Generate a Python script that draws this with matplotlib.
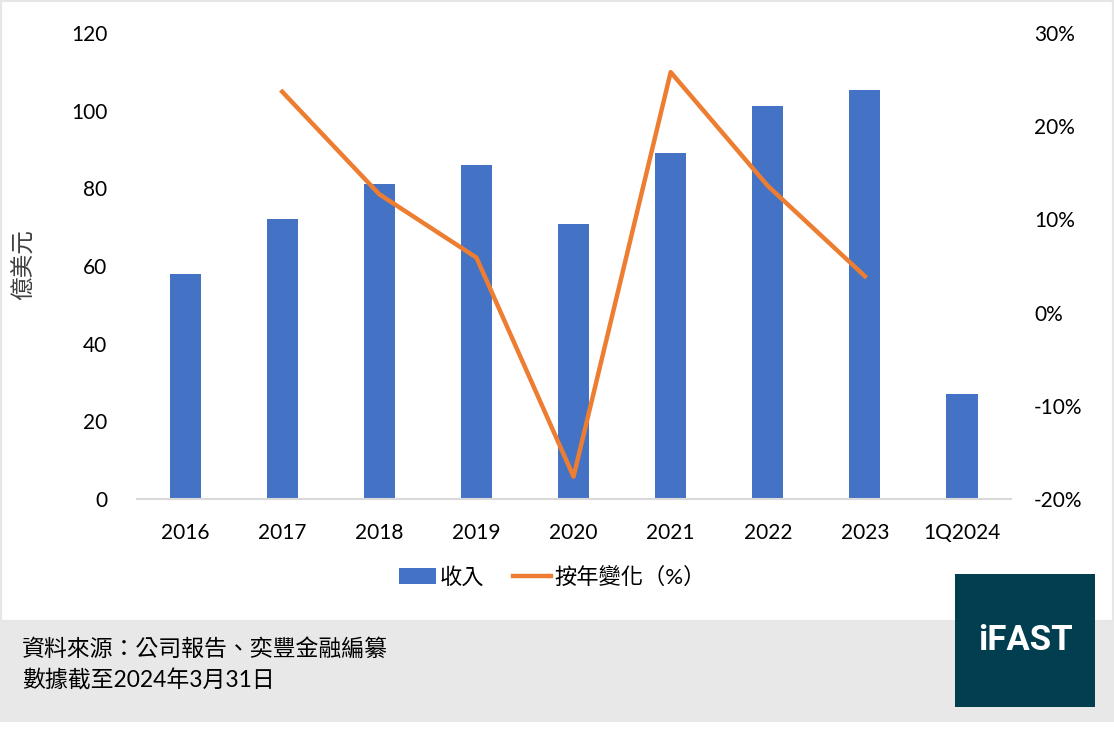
import numpy as np
import matplotlib.pyplot as plt
from matplotlib.patches import Rectangle

plt.rcParams['font.family'] = ['Lato', 'Noto Sans CJK TC', 'DejaVu Sans']

categories = ["2016", "2017", "2018", "2019", "2020", "2021", "2022", "2023", "1Q2024"]
revenue = [58.0, 72.0, 81.2, 86.1, 70.9, 89.2, 101.3, 105.4, 27.0]
yoy = [None, 23.7, 12.7, 5.9, -17.6, 25.8, 13.6, 3.9, None]

W, H = 1114, 742
fig = plt.figure(figsize=(W / 100, H / 100), dpi=100)
fig.patch.set_facecolor('white')

# panel, footer band, logo
fig.patches.append(Rectangle((0, 1 - 622 / H), 1, 622 / H, transform=fig.transFigure,
                             facecolor='white', edgecolor='#e6e6e6', linewidth=3, zorder=-2))
fig.patches.append(Rectangle((0, 1 - 722 / H), 1, 100 / H, transform=fig.transFigure,
                             facecolor='#e8e8e8', edgecolor='none', zorder=-2))
fig.patches.append(Rectangle((955 / W, 1 - 707 / H), 140 / W, 133 / H, transform=fig.transFigure,
                             facecolor='#003e50', edgecolor='none', zorder=-1))
fig.text(1025 / W, 1 - 640 / H, "iFAST", color='white', fontsize=25, fontweight='bold',
         ha='center', va='center', family='Roboto', zorder=2)

ax = fig.add_axes([136.5 / W, 1 - 499 / H, (1010.6 - 136.5) / W, (499 - 33) / H])
ax.set_zorder(3)
ax.patch.set_visible(False)
ax2 = ax.twinx()
ax2.set_zorder(4)
ax2.patch.set_visible(False)

x = np.arange(len(categories))
ax.bar(x, revenue, width=0.32, color='#4472C4', label='收入', zorder=2)
ax.set_xlim(-0.5, len(categories) - 0.5)
ax.set_ylim(0, 120)
ax.set_yticks(range(0, 121, 20))
ax.set_xticks(x)
ax.set_xticklabels(categories)

xs = [i for i, v in enumerate(yoy) if v is not None]
ys = [v for v in yoy if v is not None]
ax2.plot(xs, ys, color='#ED7D31', linewidth=3.2, label='按年變化（%）', zorder=3)
ax2.set_ylim(-20, 30)
ax2.set_yticks(range(-20, 31, 10))
ax2.set_yticklabels([f"{t}%" for t in range(-20, 31, 10)])

for a in (ax, ax2):
    for s in a.spines.values():
        s.set_visible(False)
    a.tick_params(length=0, labelsize=15, colors='black')
ax.spines['bottom'].set_visible(True)
ax.spines['bottom'].set_color('#d9d9d9')
ax.spines['bottom'].set_linewidth(1.5)
ax.tick_params(axis='y', pad=21)
ax.tick_params(axis='x', pad=17)
ax2.tick_params(axis='y', pad=17)

ax.set_ylabel('億美元', fontsize=17, color='#404040')
ax.yaxis.set_label_coords(-0.116, 0.504)

h1, l1 = ax.get_legend_handles_labels()
h2, l2 = ax2.get_legend_handles_labels()
fig.legend(h1 + h2, l1 + l2, loc='center', bbox_to_anchor=(552 / W, 1 - 577 / H), ncol=2,
           frameon=False, fontsize=16, handlelength=1.7, handletextpad=0.15, columnspacing=1.3)

fig.text(22 / W, 1 - 649 / H, '資料來源：公司報告、奕豐金融編纂', fontsize=16.5, va='center')
fig.text(22 / W, 1 - 680 / H, '數據截至2024年3月31日', fontsize=16.5, va='center')

fig.savefig('out.png', dpi=100)
